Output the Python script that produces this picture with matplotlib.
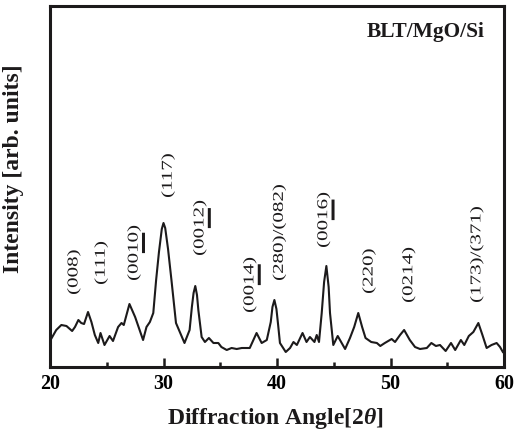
import numpy as np
import matplotlib
matplotlib.use("Agg")
import matplotlib.pyplot as plt
import matplotlib.transforms as mtransforms
from matplotlib.font_manager import FontProperties
from matplotlib.patches import PathPatch
from matplotlib.path import Path
from matplotlib.textpath import TextPath
from matplotlib.ticker import MultipleLocator

# XRD pattern (intensity in arb. units)
two_theta = [20.0, 20.1, 20.55, 21.0, 21.45, 21.95, 22.2, 22.5, 22.75, 23.0, 23.35,
             23.65, 23.95, 24.25, 24.45, 24.8, 25.25, 25.55, 26.0, 26.3, 26.5,
             27.0, 27.5, 28.2, 28.5, 28.8, 29.1, 29.35, 29.6, 29.85, 30.0, 30.15,
             30.4, 30.7, 31.1, 31.85, 32.3, 32.5, 32.65, 32.8, 32.95, 33.07, 33.36,
             33.65, 34.0, 34.4, 34.83, 35.1, 35.57, 36.0, 36.45, 36.9, 37.6, 38.2,
             38.65, 39.1, 39.45, 39.6, 39.77, 39.95, 40.1, 40.26, 40.77, 41.15,
             41.45, 41.75, 42.25, 42.6, 42.9, 43.3, 43.5, 43.7, 43.94, 44.15, 44.35,
             44.55, 44.67, 44.96, 45.35, 45.7, 46.0, 46.43, 46.8, 47.16, 47.5, 47.8,
             48.3, 48.8, 49.1, 49.5, 50.1, 50.4, 50.84, 51.2, 51.7, 52.16, 52.6,
             53.2, 53.6, 54.0, 54.36, 54.86, 55.33, 55.7, 56.2, 56.5, 56.9, 57.3,
             57.74, 58.1, 58.47, 58.9, 59.35, 59.65, 59.9]
intensity = [27, 28, 37, 42, 41, 36, 40, 47, 44, 43, 55,
             45, 32, 24, 34, 22, 31, 26, 40, 44, 42,
             63, 50, 27, 40, 45, 54, 87, 115, 138, 144, 139,
             118, 87, 44, 24, 37, 60, 74, 81, 72, 57, 30,
             25, 29, 24, 24, 20, 17, 19, 18, 19, 19, 34,
             24, 27, 45, 60, 67, 58, 42, 24, 15, 19,
             25, 22, 34, 25, 30, 25, 32, 25, 54, 85, 101,
             80, 54, 22, 31, 24, 18, 29, 40, 54, 40, 29,
             25, 24, 21, 24, 28, 25, 32, 37, 27, 20, 18,
             19, 24, 21, 22, 16, 24, 17, 27, 22, 31, 35,
             44, 32, 19, 22, 24, 20, 15]

peak_labels = ["(008)", "(111)", "(0010)", "(117)", "(0012)", "(0014)",
               "(280)/(082)", "(0016)", "(220)", "(0214)", "(173)/(371)"]
label_x = [22.1, 24.5, 27.4, 30.4, 33.2, 37.6, 40.2, 44.1, 48.1, 51.6, 57.6]
label_y = [73, 83, 87, 170, 112, 55, 87, 120, 74, 65, 65]
# characters of the two-digit index that carry a bar
label_bar = [None, None, (3, 5), None, (3, 5), (3, 5), None, (3, 5), None, None, None]

ink = "#1c1a1b"
plt.rcParams["font.family"] = ["Liberation Serif", "DejaVu Serif"]
plt.rcParams["font.weight"] = "bold"
plt.rcParams["mathtext.fontset"] = "custom"
plt.rcParams["mathtext.rm"] = "Liberation Serif:bold"
plt.rcParams["mathtext.it"] = "Liberation Serif:italic:bold"
plt.rcParams["text.color"] = ink

fig = plt.figure(figsize=(5.2, 4.33), dpi=100)
ax = fig.add_axes([50 / 520, 66 / 433, 454 / 520, 361 / 433])

ax.plot(two_theta, intensity, color=ink, lw=1.5)
ax.set_xlim(20, 60)
ax.set_ylim(0, 361)
ax.set_yticks([])
ax.xaxis.set_major_locator(MultipleLocator(10))
ax.xaxis.set_minor_locator(MultipleLocator(5))
ax.tick_params(axis="x", which="both", direction="in", top=False, width=1.8,
               color=ink, labelsize=14.4, pad=5)
ax.tick_params(axis="x", which="major", length=6.5)
ax.tick_params(axis="x", which="minor", length=3.6)
for sp in ax.spines.values():
    sp.set_linewidth(2.2)
    sp.set_color(ink)

# peak labels: rotated text drawn as paths so the glyphs can be narrowed
serif = FontProperties(family="Liberation Serif", weight="normal")
ALONG, ACROSS = 21.0, 15.0  # pixels per em

for s, x, y, bar in zip(peak_labels, label_x, label_y, label_bar):
    tp = TextPath((0, 0), s, size=1, prop=serif)
    ext = tp.get_extents()
    vc = (ext.y0 + ext.y1) / 2
    path = tp
    if bar:
        u0 = TextPath((0, 0), s[:bar[0]], size=1, prop=serif).get_extents().x1 + 0.03
        u1 = TextPath((0, 0), s[:bar[1]], size=1, prop=serif).get_extents().x1
        v0, v1 = vc - 11.0 / ACROSS, vc - 8.0 / ACROSS
        rect = Path([(u0, v0), (u1, v0), (u1, v1), (u0, v1), (u0, v0)],
                    [Path.MOVETO, Path.LINETO, Path.LINETO, Path.LINETO, Path.CLOSEPOLY])
        path = Path.make_compound_path(tp, rect)
    tr = (mtransforms.Affine2D().translate(-ext.x0, -vc).scale(ALONG, ACROSS).rotate_deg(90)
          + mtransforms.ScaledTranslation(x, y, ax.transData))
    ax.add_patch(PathPatch(path, transform=tr, facecolor=ink, edgecolor="none",
                           lw=0, clip_on=False))

ax.text(0.958, 0.913, "BLT/MgO/Si", transform=ax.transAxes, ha="right",
        va="baseline", fontsize=15.4)

fig.text(275 / 520, 9 / 433, "Diffraction Angle[2$\\theta$]", ha="center",
         va="baseline", fontsize=17)
fig.text(13.5 / 520, 264 / 433, "Intensity [arb. units]", rotation=90,
         ha="center", va="center", fontsize=17)

fig.savefig("out.png", dpi=100)
